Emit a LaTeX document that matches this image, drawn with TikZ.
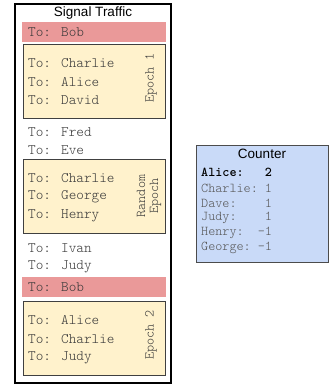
\documentclass[tikz,border=0pt]{standalone}
\usepackage{fontspec}
\setmainfont{Liberation Sans}
\newfontfamily\monofont{Latin Modern Mono Light}
\definecolor{rowpink}{HTML}{EA9999}
\definecolor{epochyellow}{HTML}{FFF2CC}
\definecolor{counterblue}{HTML}{C9DAF8}
\definecolor{txtgray}{HTML}{383838}
\definecolor{tallygray}{HTML}{555555}
\begin{document}
\begin{tikzpicture}[x=1pt,y=-1pt,
  entry/.style={anchor=west,inner sep=0pt,font=\monofont\fontsize{14.5}{16}\selectfont,text=txtgray},
  title/.style={inner sep=0pt,font=\fontsize{13.5}{15}\selectfont},
  epochbox/.style={draw=black!75,line width=0.8pt,fill=epochyellow},
  epochlabel/.style={rotate=90,inner sep=0pt,align=center,font=\monofont\fontsize{13.5}{13}\selectfont,text=txtgray},
  pinkbar/.style={fill=rowpink},
  counterrow/.style={anchor=west,inner sep=0pt,font=\monofont\fontsize{13.5}{14}\selectfont,text=tallygray}]
\useasboundingbox (0,0) rectangle (331,388);
% message log frame
\draw[line width=1.6pt] (15,4) rectangle (171,383);
\node[title] (trafficTitle) at (93,13) {Signal Traffic};
% highlighted rows
\fill[pinkbar] (22,22) rectangle (166,42);
\fill[pinkbar] (22,277) rectangle (166,297);
% epoch groups
\draw[epochbox] (23,44) rectangle (165,118);
\draw[epochbox] (23,159) rectangle (165,233);
\draw[epochbox] (23,301) rectangle (165,375);
\node[entry] (m1) at (28,32) {To: Bob};
\node[entry] (m2) at (28,63) {To: Charlie};
\node[entry] (m3) at (28,82) {To: Alice};
\node[entry] (m4) at (28,100) {To: David};
\node[epochlabel,anchor=center] (e1) at (151,78) {Epoch 1};
\node[entry] (m5) at (28,132) {To: Fred};
\node[entry] (m6) at (28,150) {To: Eve};
\node[entry] (m7) at (28,178) {To: Charlie};
\node[entry] (m8) at (28,197) {To: George};
\node[entry] (m9) at (28,216) {To: Henry};
\node[epochlabel] (e2) at (149,196) {Random\\Epoch};
\node[entry] (m10) at (28,248) {To: Ivan};
\node[entry] (m11) at (28,267) {To: Judy};
\node[entry] (m12) at (28,287) {To: Bob};
\node[entry] (m13) at (28,320) {To: Alice};
\node[entry] (m14) at (28,339) {To: Charlie};
\node[entry] (m15) at (28,358) {To: Judy};
\node[epochlabel] (e3) at (151,335) {Epoch 2};
% tally
\draw[draw=black!70,line width=0.8pt,fill=counterblue] (196,145) rectangle (328,262);
\node[title] (counterTitle) at (262,154) {Counter};
\node[counterrow,text=black,font=\monofont\bfseries\fontsize{13.5}{14}\selectfont] (c1) at (201,172) {Alice:~~~2};
\node[counterrow] (c2) at (201,188) {Charlie:~1};
\node[counterrow] (c3) at (201,203) {Dave:~~~~1};
\node[counterrow] (c4) at (201,218) {Judy:~~~~1};
\node[counterrow] (c5) at (201,233) {Henry:~~-1};
\node[counterrow] (c6) at (201,248) {George:~-1};
\end{tikzpicture}
\end{document}
